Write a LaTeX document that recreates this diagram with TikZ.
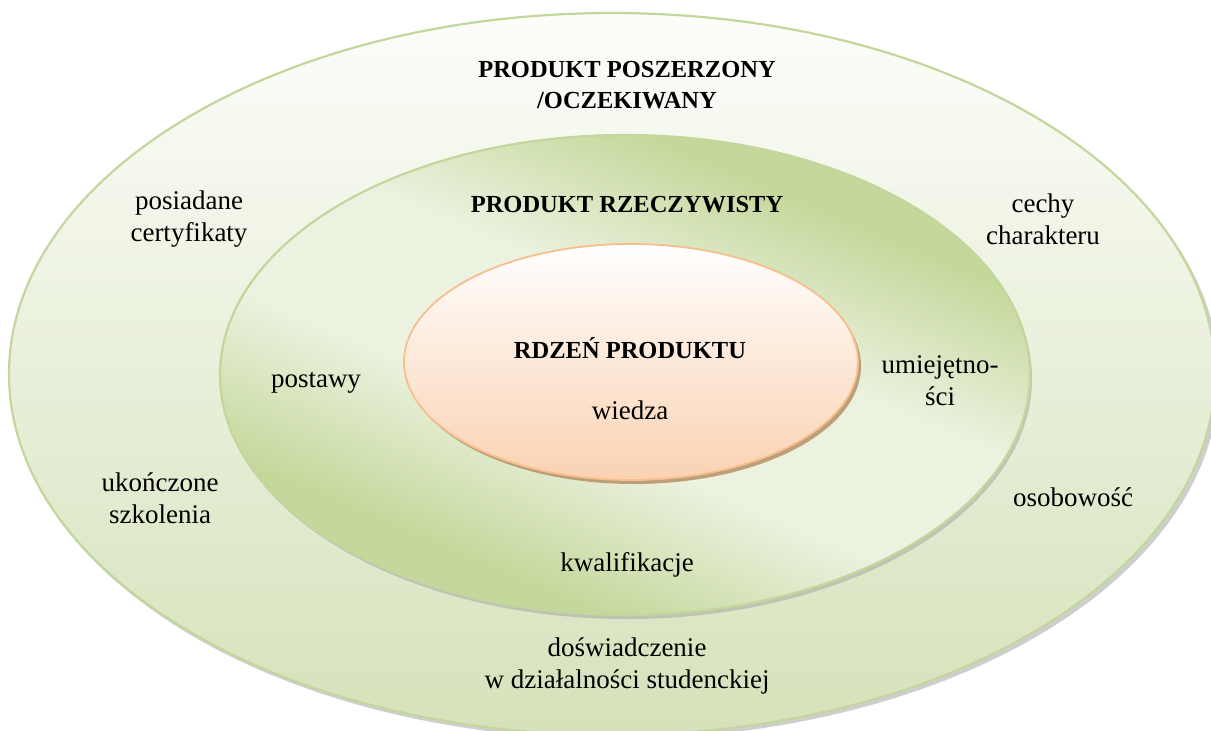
\documentclass[tikz,border=0pt]{standalone}
\usepackage{fontspec}
\setmainfont{Liberation Serif}
\usetikzlibrary{shapes.geometric}
\definecolor{ringline}{HTML}{C3D69B}
\definecolor{outertop}{HTML}{FCFDFA}
\definecolor{outerbot}{HTML}{D5E2BA}
\definecolor{middark}{HTML}{C5D89C}
\definecolor{midlight}{HTML}{ECF2E0}
\definecolor{coretop}{HTML}{FFFFFF}
\definecolor{corebot}{HTML}{FAD2B2}
\definecolor{coreline}{HTML}{F7BE8E}
\definecolor{coreshadow}{HTML}{B59168}
% band shading for the middle ring: dark, light band, dark
\pgfdeclareverticalshading{ringband}{100bp}{%
  color(0bp)=(middark); color(31bp)=(middark); color(44bp)=(midlight);
  color(56bp)=(midlight); color(69bp)=(middark); color(100bp)=(middark)}
\tikzset{
  lbl/.style={align=center, font=\fontsize{27}{32}\selectfont, inner sep=0pt},
  head/.style={align=center, font=\fontsize{24.5}{31}\selectfont\bfseries, inner sep=0pt},
  shadowring/.style={fill=black!35, opacity=0.55},
}
\begin{document}
\begin{tikzpicture}[x={(1pt,0)}, y={(0,-1pt)}]
\useasboundingbox (0,0) rectangle (1211,731);
\begin{scope}
\clip (0,0) rectangle (1211,731);
% outer ring: extended product
\fill[shadowring] (615,378) ellipse [x radius=604, y radius=361];
\path[draw=ringline, line width=2.2pt, top color=outertop, bottom color=outerbot]
  (612,374) ellipse [x radius=603, y radius=361];
% middle ring: actual product
\fill[shadowring] (627,379) ellipse [x radius=405, y radius=240];
\begin{scope}
  \clip (625,375) ellipse [x radius=405, y radius=240];
  \begin{scope}[transform canvas={rotate around={-23:(625,375)}}]
    \shade[shading=ringband] (175,75) rectangle (1075,675);
  \end{scope}
\end{scope}
\draw[ringline, line width=2.2pt] (625,375) ellipse [x radius=405, y radius=240];
% core
\fill[coreshadow, opacity=0.85] (634,366) ellipse [x radius=227, y radius=118];
\path[draw=coreline, line width=1.8pt, top color=coretop, bottom color=corebot]
  (631,362) ellipse [x radius=227, y radius=118];
\end{scope}

\node[head] (ext) at (627,85) {PRODUKT POSZERZONY\\/OCZEKIWANY};
\node[head] (act) at (627,205) {PRODUKT RZECZYWISTY};
\node[head] (core) at (630,348) {RDZEŃ PRODUKTU};
\node[lbl] (wiedza) at (630,410) {wiedza};
\node[lbl] (cert) at (189,219) {posiadane\\certyfikaty};
\node[lbl] (cechy) at (1043,219) {cechy\\charakteru};
\node[lbl] (postawy) at (316,383) {postawy};
\node[lbl] (umiej) at (940,381) {umiejętno-\\ści};
\node[lbl] (szkol) at (160,498) {ukończone\\szkolenia};
\node[lbl] (osob) at (1073,497) {osobowość};
\node[lbl] (kwal) at (627,565) {kwalifikacje};
\node[lbl] (dosw) at (627,666) {doświadczenie\\w działalności studenckiej};
\end{tikzpicture}
\end{document}
